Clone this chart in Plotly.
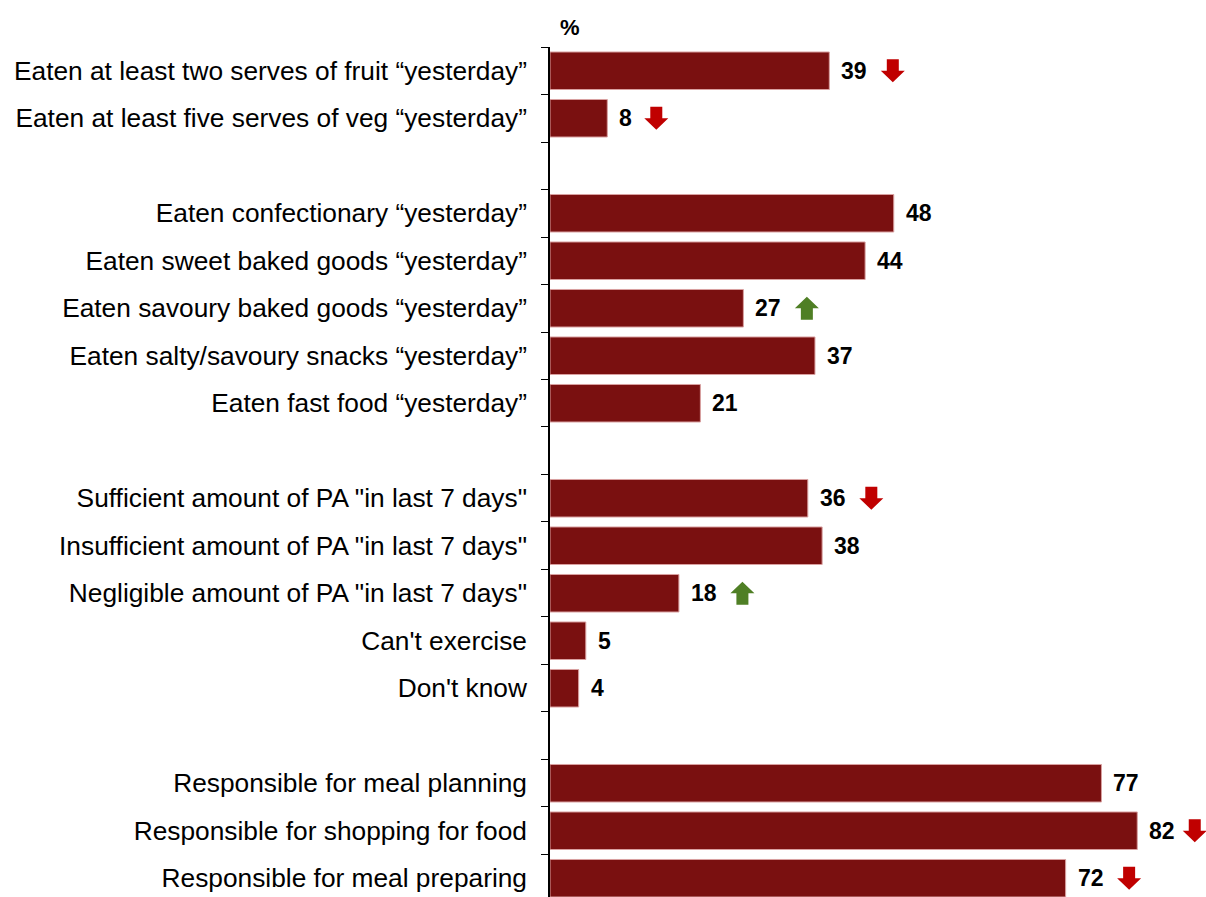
import plotly.graph_objects as go

categories = [
    "Eaten at least two serves of fruit “yesterday”",
    "Eaten at least five serves of veg “yesterday”",
    " ",
    "Eaten confectionary “yesterday”",
    "Eaten sweet baked goods “yesterday”",
    "Eaten savoury baked goods “yesterday”",
    "Eaten salty/savoury snacks “yesterday”",
    "Eaten fast food “yesterday”",
    "  ",
    'Sufficient amount of PA "in last 7 days"',
    'Insufficient amount of PA "in last 7 days"',
    'Negligible amount of PA "in last 7 days"',
    "Can't exercise",
    "Don't know",
    "   ",
    "Responsible for meal planning",
    "Responsible for shopping for food",
    "Responsible for meal preparing",
]
values = [39, 8, None, 48, 44, 27, 37, 21, None, 36, 38, 18, 5, 4, None, 77, 82, 72]
# trend: -1 down (red), 1 up (green), 0 none
trends = [-1, -1, 0, 0, 0, 1, 0, 0, 0, -1, 0, 1, 0, 0, 0, 0, -1, -1]

BAR = "#7a1010"
RED = "#c00000"
GREEN = "#4f7f25"
FONT = "Liberation Sans, Arial, sans-serif"


def arrow_path(direction, off):
    # direction -1: down, 1: up; coordinates in pixels relative to anchor
    s = -direction
    pts = [(-6, 11.5 * s), (6, 11.5 * s), (6, 0), (12, 0), (0, -11.5 * s), (-12, 0), (-6, 0)]
    d = " ".join(("M" if i == 0 else "L") + f" {x + off} {y}" for i, (x, y) in enumerate(pts))
    return d + " Z"


fig = go.Figure()
fig.add_trace(go.Bar(
    x=values, y=categories, orientation="h",
    marker=dict(color=BAR, line=dict(color="#d9a0a0", width=1)),
    hoverinfo="x+y",
))

annotations = []
shapes = []
for cat, v, t in zip(categories, values, trends):
    if v is None:
        continue
    annotations.append(dict(
        x=v, y=cat, xref="x", yref="y", text=f"<b>{v}</b>", showarrow=False,
        xanchor="left", yanchor="middle", xshift=10,
        font=dict(family=FONT, size=23, color="#000000"),
    ))
    if t != 0:
        off = 49 if v < 10 else (57.5 if v >= 80 else 63.5)
        shapes.append(dict(
            type="path", xref="x", yref="y",
            xsizemode="pixel", ysizemode="pixel",
            xanchor=v, yanchor=cat,
            path=arrow_path(t, off),
            fillcolor=RED if t < 0 else GREEN, line=dict(width=0),
        ))

annotations.append(dict(
    x=0, y=1, xref="x", yref="paper", text="<b>%</b>", showarrow=False,
    xanchor="left", yanchor="bottom", xshift=8, yshift=5,
    font=dict(family=FONT, size=22, color="#000000"),
))

fig.update_layout(
    width=1206, height=897,
    margin=dict(l=550, r=0, t=47, b=0),
    paper_bgcolor="white", plot_bgcolor="white",
    showlegend=False, bargap=0.21,
    font=dict(family=FONT, size=26.3, color="#000000"),
    xaxis=dict(range=[0, 91.6], visible=False, fixedrange=True),
    yaxis=dict(
        type="category", categoryorder="array", categoryarray=categories,
        range=[17.395, -0.5], autorange=False, fixedrange=True,
        showline=True, linecolor="#000000", linewidth=1.5,
        ticks="outside", tickson="boundaries", ticklen=7, tickcolor="#000000",
        tickwidth=1, ticklabelstandoff=16, showgrid=False, zeroline=False,
        tickfont=dict(family=FONT, size=26.3, color="#000000"),
    ),
    annotations=annotations, shapes=shapes,
)

fig.write_html(
    "out.html",
    config={"displayModeBar": False},
    post_script="document.body.style.margin='0';document.body.style.overflow='hidden';",
)
